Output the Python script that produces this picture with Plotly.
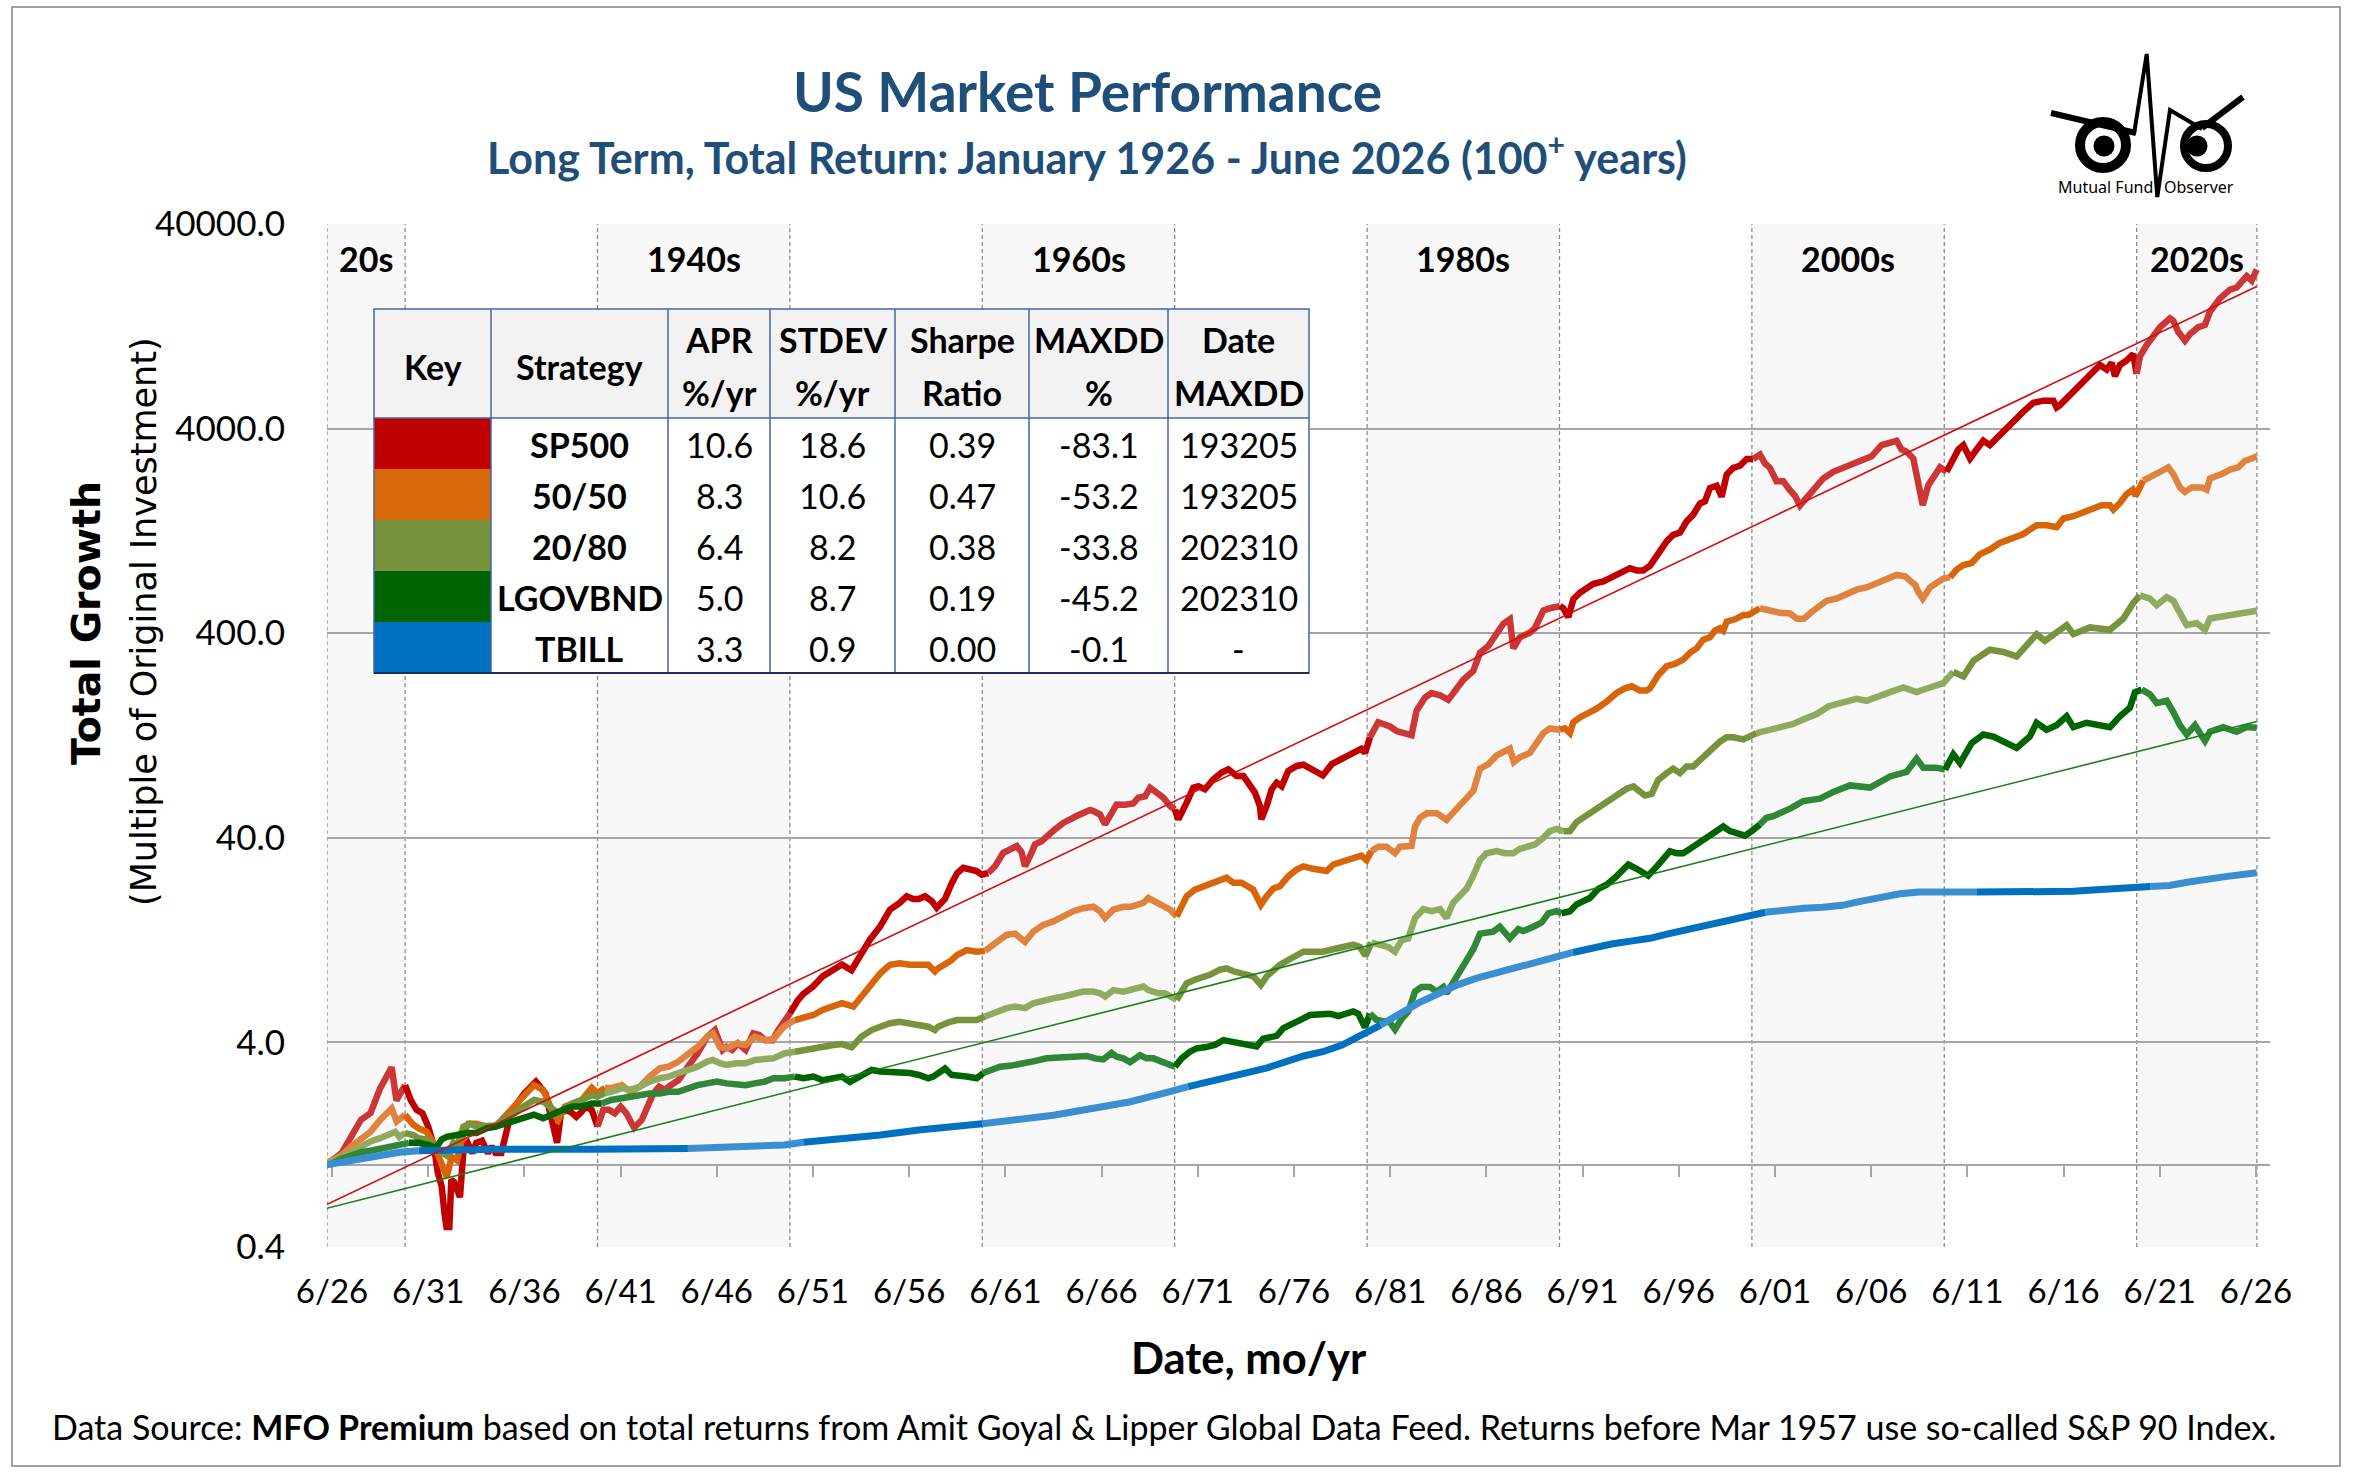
import math
import plotly.graph_objects as go

# ----------------------------------------------------------------- data
# (decimal year, growth multiple)
sp500 = [
    (1926.0, 1.00), (1926.5, 1.06), (1927.0, 1.15), (1927.5, 1.38), (1928.0, 1.67), (1928.5, 1.80),
    (1928.8, 2.17), (1929.0, 2.38), (1929.6, 3.02), (1929.85, 2.08), (1930.3, 2.47), (1930.6, 2.08),
    (1930.9, 1.87), (1931.2, 1.80), (1931.5, 1.55), (1931.8, 1.24), (1932.0, 0.92), (1932.2, 0.79),
    (1932.35, 0.58), (1932.45, 0.50), (1932.6, 0.50), (1932.7, 0.85), (1932.85, 0.83), (1933.15, 0.70),
    (1933.35, 1.24), (1933.55, 1.29), (1933.8, 1.15), (1934.0, 1.29), (1934.3, 1.32), (1934.6, 1.15),
    (1934.8, 1.24), (1935.0, 1.15), (1935.3, 1.15), (1935.5, 1.38), (1935.8, 1.80), (1936.0, 1.94),
    (1936.5, 2.25), (1937.1, 2.57), (1937.3, 2.43), (1937.6, 2.25), (1937.8, 1.87), (1938.0, 1.55),
    (1938.2, 1.29), (1938.4, 1.80), (1938.7, 1.87), (1939.0, 1.80), (1939.2, 1.73), (1939.4, 1.80),
    (1939.7, 1.94), (1940.0, 1.87), (1940.3, 1.55), (1940.6, 1.87), (1940.9, 1.87), (1941.2, 1.80),
    (1941.5, 1.94), (1941.8, 1.80), (1942.2, 1.53), (1942.6, 1.67), (1942.9, 1.94), (1943.2, 2.25),
    (1943.5, 2.43), (1943.8, 2.34), (1944.0, 2.43), (1944.5, 2.61), (1945.0, 3.04), (1945.5, 3.53),
    (1946.0, 4.26), (1946.4, 4.59), (1946.6, 4.10), (1946.8, 3.67), (1947.0, 3.80), (1947.3, 3.67),
    (1947.6, 3.95), (1948.0, 3.67), (1948.4, 4.43), (1948.7, 4.35), (1949.0, 4.10), (1949.4, 4.10),
    (1949.7, 4.60), (1950.0, 5.14), (1950.3, 5.54), (1950.5, 5.97), (1950.7, 6.40), (1951.0, 6.90),
    (1951.5, 7.50), (1952.0, 8.40), (1952.56, 9.10), (1953.0, 9.60), (1953.5, 9.00), (1954.0, 10.9),
    (1954.46, 12.7), (1955.0, 14.8), (1955.5, 17.8), (1956.0, 19.2), (1956.37, 20.7), (1956.71, 20.1),
    (1957.0, 20.1), (1957.32, 20.7), (1957.67, 19.6), (1957.93, 18.2), (1958.36, 20.1), (1958.71, 24.0),
    (1959.0, 26.9), (1959.31, 28.5), (1959.66, 28.1), (1960.0, 27.5), (1960.27, 26.4), (1960.61, 26.9),
    (1960.96, 29.0), (1961.39, 33.8), (1961.74, 35.0), (1962.09, 36.4), (1962.34, 34.0), (1962.52, 29.0),
    (1962.78, 32.5), (1963.04, 37.1), (1963.38, 38.5), (1963.73, 40.7), (1964.08, 44.0), (1964.51, 47.3),
    (1964.94, 50.1), (1965.2, 51.1), (1965.55, 52.9), (1965.9, 54.7), (1966.07, 54.0), (1966.42, 52.0),
    (1966.68, 46.5), (1967.02, 53.1), (1967.28, 58.2), (1967.72, 58.0), (1968.15, 58.9), (1968.41, 62.8),
    (1968.76, 63.8), (1969.02, 70.3), (1969.36, 66.4), (1969.71, 62.8), (1970.06, 57.2), (1970.31, 55.0),
    (1970.49, 49.2), (1970.92, 59.4), (1971.27, 70.3), (1971.53, 71.5), (1971.87, 69.0), (1972.31, 77.3),
    (1972.74, 83.4), (1973.09, 86.5), (1973.52, 80.2), (1973.87, 80.2), (1974.13, 74.5), (1974.47, 66.5),
    (1974.73, 57.2), (1974.8, 49.2), (1975.08, 57.2), (1975.34, 69.0), (1975.6, 74.4), (1975.86, 71.5),
    (1976.2, 84.9), (1976.64, 89.8), (1976.99, 91.0), (1977.5, 85.0), (1978.0, 80.7), (1978.46, 91.6),
    (1978.89, 96.2), (1979.24, 101), (1979.67, 106), (1980.0, 109), (1980.2, 104), (1980.45, 124),
    (1980.88, 147), (1981.14, 144), (1981.49, 140), (1981.83, 133), (1982.18, 130), (1982.61, 127),
    (1982.87, 167), (1983.31, 194), (1983.65, 204), (1984.09, 199), (1984.52, 189), (1984.95, 215),
    (1985.3, 237), (1985.82, 262), (1986.17, 321), (1986.6, 346), (1987.03, 392), (1987.38, 445),
    (1987.72, 468), (1987.9, 337), (1988.24, 382), (1988.76, 402), (1989.02, 423), (1989.46, 516),
    (1989.8, 530), (1990.32, 543), (1990.5, 530), (1990.76, 479), (1991.02, 586), (1991.36, 631),
    (1991.71, 664), (1992.06, 698), (1992.58, 716), (1993.01, 753), (1993.44, 791), (1993.96, 832),
    (1994.31, 811), (1994.65, 811), (1995.0, 853), (1995.43, 991), (1995.87, 1124), (1996.21, 1211),
    (1996.56, 1242), (1996.91, 1409), (1997.25, 1520), (1997.6, 1722), (1997.86, 1766), (1998.12, 2052),
    (1998.47, 2105), (1998.73, 1859), (1998.99, 2386), (1999.33, 2572), (1999.68, 2636), (2000.03, 2842),
    (2000.37, 2842), (2000.72, 2990), (2000.98, 2706), (2001.24, 2572), (2001.58, 2213), (2001.93, 2213),
    (2002.28, 2000), (2002.54, 1880), (2002.8, 1685), (2003.01, 1778), (2003.32, 1915), (2003.67, 2118),
    (2004.01, 2284), (2004.53, 2462), (2005.05, 2588), (2005.57, 2723), (2006.0, 2787), (2006.52, 2931),
    (2007.04, 3324), (2007.48, 3408), (2007.82, 3491), (2008.08, 3162), (2008.34, 3083), (2008.69, 2858),
    (2008.95, 2118), (2009.18, 1690), (2009.47, 2118), (2009.73, 2339), (2010.08, 2588), (2010.42, 2462),
    (2010.77, 2858), (2011.03, 3162), (2011.29, 3324), (2011.64, 2858), (2011.98, 3162), (2012.33, 3491),
    (2012.67, 3324), (2013.11, 3673), (2013.54, 4062), (2013.97, 4489), (2014.41, 4845), (2014.93, 5350),
    (2015.45, 5485), (2015.97, 5485), (2016.14, 5082), (2016.31, 5212), (2016.66, 5623), (2017.01, 6060),
    (2017.35, 6530), (2017.87, 7228), (2018.39, 8190), (2018.74, 7785), (2019.0, 8400), (2019.17, 7228),
    (2019.43, 8190), (2019.78, 8610), (2020.12, 9276), (2020.3, 7400), (2020.47, 9040), (2020.82, 10250),
    (2021.16, 11330), (2021.51, 12530), (2022.03, 13840), (2022.2, 13500), (2022.46, 11910), (2022.81, 10770),
    (2023.07, 11610), (2023.5, 12530), (2023.85, 12850), (2024.11, 14930), (2024.63, 17340), (2025.15, 19150),
    (2025.5, 19600), (2025.76, 21170), (2026.02, 22280), (2026.28, 21170), (2026.45, 23400), (2026.54, 23990),
]

mix_50_50 = [
    (1926.0, 1.00), (1926.5, 1.06), (1927.0, 1.12), (1927.5, 1.24), (1928.0, 1.36), (1928.5, 1.46),
    (1929.0, 1.67), (1929.34, 1.80), (1929.6, 1.90), (1929.86, 1.64), (1930.3, 1.77), (1930.7, 1.59),
    (1931.0, 1.52), (1931.42, 1.46), (1931.77, 1.29), (1932.0, 1.15), (1932.3, 0.99), (1932.46, 0.88),
    (1932.72, 1.10), (1933.0, 1.06), (1933.33, 1.44), (1933.59, 1.60), (1934.0, 1.60), (1934.54, 1.55),
    (1935.0, 1.55), (1935.5, 1.73), (1936.0, 1.94), (1936.44, 2.17), (1937.0, 2.47), (1937.48, 2.34),
    (1938.0, 1.80), (1938.26, 1.67), (1938.61, 1.94), (1939.0, 2.01), (1939.48, 2.09), (1940.0, 2.40),
    (1940.29, 2.26), (1940.69, 2.39), (1941.0, 2.39), (1941.56, 2.47), (1942.0, 2.29), (1942.51, 2.43),
    (1943.0, 2.72), (1943.55, 2.99), (1944.0, 3.04), (1944.5, 3.22), (1945.0, 3.47), (1945.5, 3.80),
    (1946.0, 4.26), (1946.3, 4.43), (1946.66, 3.80), (1947.0, 3.73), (1947.53, 3.95), (1948.0, 3.88),
    (1948.48, 4.26), (1949.0, 4.10), (1949.44, 4.15), (1950.0, 4.79), (1950.56, 5.14), (1951.0, 5.25),
    (1951.52, 5.44), (1952.0, 5.76), (1952.56, 5.98), (1953.0, 6.21), (1953.6, 5.98), (1954.01, 6.70),
    (1954.55, 7.78), (1955.0, 8.71), (1955.5, 9.57), (1956.0, 9.75), (1956.54, 9.57), (1957.01, 9.57),
    (1957.49, 9.57), (1957.84, 8.88), (1958.0, 9.20), (1958.62, 9.95), (1959.0, 10.7), (1959.49, 11.3),
    (1960.01, 11.1), (1960.44, 11.2), (1961.01, 12.4), (1961.56, 13.4), (1962.0, 13.6), (1962.52, 12.4),
    (1962.95, 13.9), (1963.47, 15.0), (1963.99, 15.6), (1964.51, 16.5), (1965.03, 17.5), (1965.55, 18.1),
    (1966.07, 18.4), (1966.42, 17.5), (1966.68, 16.2), (1967.11, 17.8), (1967.63, 18.4), (1968.01, 18.4),
    (1968.67, 19.2), (1968.93, 20.3), (1969.45, 19.2), (1969.8, 18.4), (1970.06, 17.8), (1970.4, 16.5),
    (1970.58, 17.8), (1970.92, 20.7), (1971.35, 22.3), (1971.87, 23.2), (1972.13, 23.5), (1972.65, 24.5),
    (1973.0, 25.5), (1973.35, 24.1), (1973.78, 24.1), (1974.38, 22.3), (1974.55, 20.7), (1974.78, 18.8),
    (1975.08, 20.7), (1975.43, 22.6), (1975.77, 23.2), (1976.2, 25.9), (1976.64, 28.0), (1976.99, 29.0),
    (1977.5, 28.2), (1978.2, 27.5), (1978.54, 29.6), (1978.99, 30.4), (1979.58, 31.9), (1980.0, 32.7),
    (1980.27, 31.1), (1980.53, 34.5), (1980.88, 36.2), (1981.31, 36.2), (1981.75, 33.6), (1982.01, 36.2),
    (1982.61, 36.5), (1982.79, 45.4), (1983.05, 50.1), (1983.4, 52.7), (1983.92, 52.7), (1984.09, 51.5),
    (1984.43, 48.9), (1984.95, 55.4), (1985.47, 62.8), (1985.82, 67.8), (1986.17, 87.1), (1986.6, 91.6),
    (1987.03, 101), (1987.38, 106), (1987.72, 109), (1987.93, 93.8), (1988.24, 99.0), (1988.76, 104),
    (1989.02, 112), (1989.46, 130), (1989.8, 137), (1990.32, 135), (1990.58, 137), (1990.84, 130),
    (1991.02, 147), (1991.36, 155), (1991.88, 163), (1992.23, 171), (1992.75, 185), (1993.27, 204),
    (1993.7, 215), (1994.05, 220), (1994.48, 210), (1994.83, 210), (1995.0, 215), (1995.43, 249),
    (1995.87, 276), (1996.3, 283), (1996.73, 297), (1997.08, 321), (1997.43, 337), (1997.77, 372),
    (1998.12, 382), (1998.38, 412), (1998.64, 423), (1998.81, 412), (1998.99, 456), (1999.42, 468),
    (1999.85, 491), (2000.11, 491), (2000.72, 530), (2001.24, 516), (2001.76, 503), (2002.28, 500),
    (2002.63, 472), (2002.8, 470), (2003.01, 472), (2003.41, 508), (2003.84, 548), (2004.19, 577),
    (2004.71, 591), (2005.23, 621), (2005.74, 653), (2006.26, 670), (2006.87, 705), (2007.3, 740),
    (2007.82, 771), (2008.26, 760), (2008.52, 721), (2008.78, 690), (2008.95, 637), (2009.18, 591),
    (2009.56, 670), (2009.9, 705), (2010.25, 740), (2010.6, 750), (2010.94, 818), (2011.29, 861),
    (2011.72, 881), (2012.16, 975), (2012.67, 1026), (2013.19, 1105), (2013.71, 1162), (2014.41, 1222),
    (2015.1, 1349), (2015.62, 1349), (2016.14, 1320), (2016.49, 1455), (2017.01, 1493), (2017.53, 1567),
    (2018.05, 1648), (2018.48, 1690), (2018.91, 1690), (2019.09, 1607), (2019.43, 1733), (2019.78, 1915),
    (2020.1, 2012), (2020.25, 1880), (2020.64, 2228), (2020.99, 2339), (2021.51, 2462), (2021.94, 2588),
    (2022.2, 2400), (2022.55, 2065), (2022.81, 1964), (2023.16, 2065), (2023.68, 2065), (2023.94, 2012),
    (2024.11, 2284), (2024.72, 2399), (2025.15, 2522), (2025.58, 2588), (2025.93, 2787), (2026.28, 2858),
    (2026.54, 2931),
]

mix_20_80 = [
    (1926.0, 1.00), (1926.5, 1.04), (1927.0, 1.10), (1927.5, 1.16), (1928.0, 1.24), (1928.5, 1.31),
    (1929.0, 1.36), (1929.5, 1.41), (1929.78, 1.46), (1930.0, 1.38), (1930.3, 1.44), (1930.73, 1.41),
    (1931.0, 1.36), (1931.42, 1.34), (1931.77, 1.24), (1932.2, 1.16), (1932.46, 1.12), (1932.81, 1.29),
    (1933.0, 1.24), (1933.33, 1.55), (1933.67, 1.60), (1934.0, 1.55), (1934.54, 1.57), (1935.0, 1.57),
    (1935.5, 1.70), (1936.0, 1.80), (1936.44, 1.94), (1937.0, 2.09), (1937.48, 2.05), (1938.0, 1.87),
    (1938.26, 1.80), (1938.61, 1.90), (1939.0, 2.01), (1939.48, 2.09), (1940.0, 2.21), (1940.29, 2.17),
    (1940.69, 2.26), (1941.0, 2.29), (1941.56, 2.39), (1942.0, 2.34), (1942.51, 2.43), (1943.0, 2.57),
    (1943.55, 2.67), (1944.0, 2.72), (1944.5, 2.83), (1945.0, 2.94), (1945.5, 3.04), (1946.0, 3.22),
    (1946.3, 3.28), (1946.66, 3.16), (1947.0, 3.10), (1947.53, 3.16), (1948.0, 3.16), (1948.48, 3.28),
    (1949.0, 3.28), (1949.44, 3.34), (1950.0, 3.53), (1950.56, 3.60), (1951.0, 3.67), (1951.52, 3.73),
    (1952.0, 3.78), (1952.56, 3.88), (1953.0, 3.92), (1953.51, 3.78), (1954.01, 4.26), (1954.55, 4.59),
    (1955.0, 4.77), (1955.5, 4.96), (1956.0, 5.04), (1956.54, 4.96), (1957.01, 4.90), (1957.49, 4.77),
    (1957.84, 4.59), (1958.0, 4.77), (1958.62, 5.04), (1959.0, 5.14), (1959.49, 5.14), (1960.01, 5.14),
    (1960.44, 5.35), (1961.01, 5.66), (1961.56, 5.88), (1962.0, 5.98), (1962.52, 5.88), (1962.95, 6.21),
    (1963.47, 6.44), (1963.99, 6.56), (1964.51, 6.70), (1965.03, 6.84), (1965.55, 7.08), (1966.07, 7.08),
    (1966.42, 6.95), (1966.68, 6.70), (1967.11, 7.20), (1967.63, 7.08), (1968.01, 7.20), (1968.67, 7.50),
    (1968.93, 7.20), (1969.45, 6.95), (1969.8, 6.95), (1970.06, 6.70), (1970.4, 6.44), (1970.58, 6.95),
    (1970.92, 7.78), (1971.35, 8.09), (1971.87, 8.40), (1972.13, 8.55), (1972.65, 9.06), (1973.0, 9.20),
    (1973.35, 8.90), (1973.87, 8.72), (1974.38, 8.40), (1974.55, 8.09), (1974.78, 7.64), (1975.08, 8.40),
    (1975.43, 9.06), (1975.77, 9.57), (1976.2, 10.1), (1976.64, 10.7), (1976.99, 11.1), (1977.5, 11.1),
    (1978.0, 11.1), (1978.54, 11.4), (1978.99, 11.7), (1979.58, 12.0), (1979.93, 11.7), (1980.22, 10.6),
    (1980.53, 12.3), (1980.97, 12.0), (1981.4, 11.7), (1981.75, 11.1), (1982.09, 12.6), (1982.44, 12.9),
    (1982.79, 16.2), (1983.22, 17.9), (1983.65, 17.5), (1984.09, 17.9), (1984.43, 16.2), (1984.78, 19.3),
    (1985.13, 20.8), (1985.47, 22.5), (1985.82, 26.1), (1986.17, 31.1), (1986.51, 33.6), (1987.03, 34.4),
    (1987.46, 33.6), (1987.9, 33.6), (1988.24, 35.3), (1988.59, 36.2), (1989.02, 37.1), (1989.46, 40.0),
    (1989.8, 43.1), (1990.15, 44.2), (1990.5, 43.1), (1990.84, 43.1), (1991.19, 47.7), (1991.54, 50.1),
    (1991.88, 52.7), (1992.4, 56.9), (1992.92, 61.2), (1993.36, 64.4), (1993.79, 69.5), (1994.14, 71.3),
    (1994.74, 64.4), (1995.09, 65.5), (1995.43, 76.7), (1995.87, 82.8), (1996.21, 87.1), (1996.56, 82.8),
    (1996.91, 89.3), (1997.25, 89.3), (1997.6, 96.2), (1997.95, 104), (1998.29, 109), (1998.64, 118),
    (1998.99, 124), (1999.33, 124), (1999.85, 121), (2000.11, 124), (2000.54, 130), (2001.06, 133),
    (2001.5, 137), (2001.93, 140), (2002.45, 144), (2003.0, 152), (2003.67, 161), (2004.3, 176),
    (2004.88, 182), (2005.74, 191), (2006.26, 187), (2006.9, 198), (2007.48, 206), (2008.17, 217),
    (2008.86, 206), (2009.56, 217), (2010.25, 228), (2010.77, 259), (2011.29, 246), (2011.81, 293),
    (2012.67, 332), (2013.37, 324), (2014.06, 308), (2015.1, 396), (2015.53, 367), (2016.66, 438),
    (2017.01, 396), (2017.87, 427), (2018.91, 416), (2019.61, 472), (2020.12, 562), (2020.47, 612),
    (2020.99, 591), (2021.34, 548), (2021.86, 600), (2022.2, 577), (2022.55, 496), (2022.9, 438),
    (2023.42, 449), (2023.85, 416), (2024.11, 472), (2024.8, 484), (2025.5, 496), (2026.54, 515),
]

lgovbnd = [
    (1926.0, 1.00), (1926.5, 1.02), (1927.0, 1.08), (1927.5, 1.12), (1928.0, 1.16), (1928.5, 1.18),
    (1929.0, 1.21), (1929.5, 1.23), (1930.0, 1.26), (1930.5, 1.29), (1931.0, 1.29), (1931.5, 1.26),
    (1931.9, 1.22), (1932.2, 1.34), (1932.46, 1.38), (1933.0, 1.41), (1933.5, 1.44), (1934.0, 1.44),
    (1934.54, 1.52), (1935.0, 1.55), (1935.5, 1.60), (1936.0, 1.67), (1936.44, 1.73), (1937.0, 1.77),
    (1937.48, 1.70), (1938.0, 1.80), (1938.52, 1.87), (1939.0, 1.94), (1939.48, 1.94), (1940.0, 2.01),
    (1940.52, 2.01), (1941.0, 2.09), (1941.56, 2.13), (1942.0, 2.17), (1942.51, 2.21), (1943.0, 2.25),
    (1943.55, 2.25), (1944.0, 2.29), (1944.5, 2.29), (1945.0, 2.39), (1945.5, 2.47), (1946.0, 2.52),
    (1946.5, 2.57), (1947.0, 2.52), (1947.53, 2.47), (1948.0, 2.47), (1948.48, 2.52), (1949.0, 2.57),
    (1949.44, 2.67), (1950.0, 2.67), (1950.56, 2.72), (1951.0, 2.67), (1951.52, 2.72), (1952.0, 2.61),
    (1952.56, 2.67), (1953.0, 2.72), (1953.42, 2.56), (1954.01, 2.77), (1954.55, 2.93), (1955.0, 2.88),
    (1955.5, 2.88), (1956.0, 2.83), (1956.54, 2.83), (1957.01, 2.77), (1957.49, 2.67), (1957.75, 2.72),
    (1958.36, 2.98), (1958.71, 2.77), (1959.0, 2.77), (1959.49, 2.72), (1960.01, 2.67), (1960.35, 2.83),
    (1960.79, 2.93), (1961.22, 3.04), (1961.74, 3.07), (1962.26, 3.16), (1962.95, 3.23), (1963.64, 3.34),
    (1964.16, 3.36), (1964.68, 3.36), (1965.2, 3.40), (1965.72, 3.43), (1966.16, 3.34), (1966.59, 3.30),
    (1967.02, 3.55), (1967.28, 3.40), (1967.63, 3.34), (1967.98, 3.20), (1968.5, 3.46), (1968.84, 3.34),
    (1969.19, 3.34), (1969.71, 3.20), (1970.06, 3.16), (1970.31, 3.04), (1970.66, 3.34), (1971.09, 3.60),
    (1971.44, 3.74), (1971.87, 3.78), (1972.39, 3.88), (1972.82, 4.10), (1973.35, 4.02), (1973.69, 3.96),
    (1974.21, 3.88), (1974.56, 3.82), (1974.9, 4.17), (1975.25, 4.20), (1975.6, 4.30), (1975.95, 4.69),
    (1976.38, 4.88), (1976.81, 5.14), (1977.33, 5.44), (1977.76, 5.45), (1978.37, 5.52), (1978.8, 5.38),
    (1979.24, 5.52), (1979.58, 5.66), (1979.84, 5.52), (1980.1, 4.99), (1980.19, 4.74), (1980.45, 5.52),
    (1980.79, 5.15), (1981.14, 5.07), (1981.49, 4.99), (1981.75, 4.62), (1982.09, 5.20), (1982.44, 5.66),
    (1982.79, 7.08), (1983.13, 7.45), (1983.57, 7.45), (1983.91, 7.08), (1984.26, 7.45), (1984.43, 6.94),
    (1984.87, 8.04), (1985.13, 8.88), (1985.47, 9.81), (1985.82, 11.4), (1986.17, 13.6), (1986.51, 13.7),
    (1986.86, 13.9), (1987.2, 14.7), (1987.72, 12.9), (1988.16, 14.3), (1988.42, 14.0), (1988.94, 14.7),
    (1989.37, 15.4), (1989.72, 17.1), (1990.15, 17.5), (1990.41, 17.1), (1990.84, 17.5), (1991.19, 18.9),
    (1991.54, 19.8), (1991.88, 20.3), (1992.32, 22.5), (1992.75, 23.6), (1993.18, 25.5), (1993.53, 27.5),
    (1993.88, 29.6), (1994.31, 28.2), (1994.65, 26.8), (1994.91, 26.1), (1995.35, 28.9), (1995.69, 31.1),
    (1996.04, 34.4), (1996.39, 33.6), (1996.73, 33.6), (1997.08, 35.3), (1997.43, 37.1), (1997.77, 39.0),
    (1998.12, 41.0), (1998.47, 43.1), (1998.81, 45.4), (1999.16, 43.1), (1999.5, 42.1), (1999.94, 41.0),
    (2000.29, 43.1), (2000.72, 46.5), (2001.06, 50.1), (2001.41, 51.0), (2001.76, 52.7), (2002.36, 56.0),
    (2002.97, 60.5), (2003.84, 62.1), (2004.53, 67.0), (2005.4, 72.1), (2006.44, 70.4), (2007.48, 79.8),
    (2008.34, 83.9), (2008.86, 97.5), (2009.21, 88.1), (2009.9, 88.1), (2010.34, 86.1), (2010.77, 102.5),
    (2011.12, 92.7), (2011.72, 116), (2012.33, 128), (2012.85, 125), (2013.54, 116), (2014.06, 110),
    (2014.75, 125), (2015.1, 146), (2015.62, 135), (2016.14, 142), (2016.66, 157), (2017.01, 139),
    (2017.7, 146), (2018.39, 142), (2018.91, 139), (2019.43, 157), (2019.95, 173), (2020.21, 206),
    (2020.56, 212), (2020.99, 201), (2021.34, 182), (2021.86, 187), (2022.2, 165), (2022.55, 142),
    (2022.9, 128), (2023.33, 142), (2023.85, 119), (2024.11, 132), (2024.8, 139), (2025.49, 132),
    (2026.01, 139), (2026.54, 138),
]

tbill = [
    (1926.0, 1.00), (1927.0, 1.04), (1928.0, 1.08), (1929.0, 1.12), (1930.0, 1.16), (1931.0, 1.18),
    (1932.0, 1.19), (1933.0, 1.20), (1935.0, 1.20), (1940.0, 1.20), (1945.0, 1.21), (1948.0, 1.23),
    (1950.0, 1.26), (1951.0, 1.30), (1953.0, 1.35), (1955.0, 1.41), (1957.0, 1.49), (1959.0, 1.54),
    (1960.3, 1.60), (1962.0, 1.66), (1964.0, 1.76), (1966.0, 1.90), (1968.0, 2.05), (1970.0, 2.29),
    (1971.0, 2.43), (1973.0, 2.67), (1975.0, 2.98), (1977.0, 3.43), (1978.0, 3.60), (1979.0, 3.88),
    (1980.0, 4.33), (1981.0, 4.86), (1982.0, 5.51), (1983.0, 6.25), (1984.0, 6.91), (1985.0, 7.64),
    (1986.0, 8.24), (1987.0, 8.75), (1988.0, 9.21), (1989.0, 9.82), (1990.0, 10.3), (1991.0, 11.0),
    (1992.0, 11.6), (1993.0, 12.1), (1994.0, 12.5), (1995.0, 12.9), (1996.0, 13.6), (1997.0, 14.3),
    (1998.0, 14.9), (1999.0, 15.7), (2000.0, 16.4), (2001.0, 17.3), (2002.0, 17.8), (2003.0, 18.1),
    (2004.0, 18.3), (2005.0, 18.7), (2006.0, 19.6), (2007.0, 20.5), (2008.0, 21.3), (2009.0, 21.7),
    (2012.0, 21.7), (2015.0, 21.7), (2017.0, 21.9), (2018.0, 22.2), (2019.0, 22.6), (2020.0, 23.1),
    (2021.0, 23.1), (2022.0, 23.4), (2023.0, 24.3), (2024.0, 25.2), (2025.0, 25.9), (2026.54, 27.0),
]

# straight trend lines (log scale): endpoints
trend_years = [1926.0, 2026.54]
trend_sp500 = [0.63, 19800]
trend_lgovbnd = [0.61, 148]

# x-axis tick positions (June of each 5th year) and labels
tick_years = [1926.5, 1931.5, 1936.5, 1941.5, 1946.5, 1951.5, 1956.5, 1961.5, 1966.5, 1971.5, 1976.5,
              1981.5, 1986.5, 1991.5, 1996.5, 2001.5, 2006.5, 2011.5, 2016.5, 2021.5, 2026.5]
tick_labels = ["6/26", "6/31", "6/36", "6/41", "6/46", "6/51", "6/56", "6/61", "6/66", "6/71", "6/76",
               "6/81", "6/86", "6/91", "6/96", "6/01", "6/06", "6/11", "6/16", "6/21", "6/26"]
y_ticks = [0.4, 4, 40, 400, 4000, 40000]
y_tick_labels = ["0.4", "4.0", "40.0", "400.0", "4000.0", "40000.0"]

# decade bands (edges in decimal years) and labels of shaded bands
band_edges = [1926.24, 1930.3, 1940.3, 1950.3, 1960.3, 1970.3, 1980.3, 1990.3, 2000.3, 2010.3, 2020.3, 2026.55]
band_labels = ["20s", "1940s", "1960s", "1980s", "2000s", "2020s"]

# statistics table
table_strategies = ["SP500", "50/50", "20/80", "LGOVBND", "TBILL"]
table_apr = ["10.6", "8.3", "6.4", "5.0", "3.3"]
table_stdev = ["18.6", "10.6", "8.2", "8.7", "0.9"]
table_sharpe = ["0.39", "0.47", "0.38", "0.19", "0.00"]
table_maxdd = ["-83.1", "-53.2", "-33.8", "-45.2", "-0.1"]
table_date_maxdd = ["193205", "193205", "202310", "202310", "-"]
table_headers = [["Key"], ["Strategy"], ["APR", "%/yr"], ["STDEV", "%/yr"],
                 ["Sharpe", "Ratio"], ["MAXDD", "%"], ["Date", "MAXDD"]]

# ----------------------------------------------------------------- styling
W, H = 2362, 1481
PL, PR, PT, PB = 327, 2270, 224, 1247          # plot box in pixels
X_RANGE = [1926.24, 2027.23]
EPS = 0.0006
Y_RANGE = [math.log10(0.4) - EPS, math.log10(40000) + EPS]
FONT = "Lato, 'Open Sans', sans-serif"
TITLE_BLUE = "#1F4E79"
GRID = "#A6A6A6"

series_styles = [
    (sp500, "#C00000", "#CD3636", 6.5),
    (mix_50_50, "#D9650B", "#E0833F", 6.5),
    (mix_20_80, "#77933C", "#90AB5F", 6.5),
    (lgovbnd, "#006400", "#2F8737", 6.5),
    (tbill, "#0070C0", "#3A8FD3", 7),
]
key_colors = ["#C00000", "#D9690B", "#77933C", "#006400", "#0070C0"]


def fx(p):
    return (p - PL) / (PR - PL)


def fy(p):
    return (PB - p) / (PB - PT)


fig = go.Figure()

# data lines, coloured lighter inside the shaded decade bands
for data, dark, light, width in series_styles:
    xs = [p[0] for p in data]
    ys = [p[1] for p in data]
    nb = len(band_edges) - 1
    for i in range(nb):
        lo = -1e9 if i == 0 else band_edges[i]
        hi = 1e9 if i == nb - 1 else band_edges[i + 1]
        idx = [k for k, x in enumerate(xs) if lo <= x < hi]
        if not idx:
            continue
        end = min(idx[-1] + 1, len(xs) - 1)
        fig.add_trace(go.Scatter(
            x=xs[idx[0]:end + 1], y=ys[idx[0]:end + 1], mode="lines",
            line=dict(color=light if i % 2 == 0 else dark, width=width),
            hoverinfo="skip", showlegend=False))

# trend lines
fig.add_trace(go.Scatter(x=trend_years, y=trend_sp500, mode="lines",
                         line=dict(color="#D01010", width=1.6), hoverinfo="skip", showlegend=False))
fig.add_trace(go.Scatter(x=trend_years, y=trend_lgovbnd, mode="lines",
                         line=dict(color="#188018", width=1.6), hoverinfo="skip", showlegend=False))
# carrier trace for the axis line drawn at growth = 1
fig.add_trace(go.Scatter(x=[tick_years[0]], y=[1], xaxis="x2", yaxis="y", mode="markers",
                         marker=dict(opacity=0), hoverinfo="skip", showlegend=False))

shapes = []
# decade bands
for i in range(len(band_edges) - 1):
    if i % 2 == 0:
        shapes.append(dict(type="rect", xref="x", yref="paper", x0=band_edges[i], x1=band_edges[i + 1],
                           y0=0, y1=1, fillcolor="#F8F8F8", line=dict(width=0), layer="below"))
for e in band_edges:
    shapes.append(dict(type="line", xref="x", yref="paper", x0=e, x1=e, y0=0, y1=1,
                       line=dict(color="#8C8C8C", width=1.3, dash="4px,3px"), layer="below"))

# table
col_edges = [374, 491, 668, 770, 895, 1029, 1168, 1309]
row_edges = [309, 418, 469, 520, 571, 622, 673]
TBL_LINE = "#4466A0"
shapes.append(dict(type="rect", xref="paper", yref="paper", x0=fx(col_edges[0]), x1=fx(col_edges[-1]),
                   y0=fy(row_edges[-1]), y1=fy(row_edges[0]), fillcolor="white", line=dict(width=0), layer="above"))
shapes.append(dict(type="rect", xref="paper", yref="paper", x0=fx(col_edges[0]), x1=fx(col_edges[-1]),
                   y0=fy(row_edges[1]), y1=fy(row_edges[0]), fillcolor="#F2F2F2", line=dict(width=0), layer="above"))
for r, c in enumerate(key_colors):
    shapes.append(dict(type="rect", xref="paper", yref="paper", x0=fx(col_edges[0]), x1=fx(col_edges[1]),
                       y0=fy(row_edges[r + 2]), y1=fy(row_edges[r + 1]), fillcolor=c, line=dict(width=0),
                       layer="above"))
for cx in col_edges[1:-1]:
    shapes.append(dict(type="line", xref="paper", yref="paper", x0=fx(cx), x1=fx(cx),
                       y0=fy(row_edges[-1]), y1=fy(row_edges[0]), line=dict(color=TBL_LINE, width=1.5),
                       layer="above"))
shapes.append(dict(type="line", xref="paper", yref="paper", x0=fx(col_edges[0]), x1=fx(col_edges[-1]),
                   y0=fy(row_edges[1]), y1=fy(row_edges[1]), line=dict(color=TBL_LINE, width=1.5), layer="above"))
shapes.append(dict(type="rect", xref="paper", yref="paper", x0=fx(col_edges[0]), x1=fx(col_edges[-1]),
                   y0=fy(row_edges[-1]), y1=fy(row_edges[0]), line=dict(color=TBL_LINE, width=1.5), layer="above"))
shapes.append(dict(type="line", xref="paper", yref="paper", x0=fx(col_edges[0]), x1=fx(col_edges[-1]),
                   y0=fy(row_edges[-1]), y1=fy(row_edges[-1]), line=dict(color="#1F2F50", width=2), layer="above"))

# outer frame of the picture
shapes.append(dict(type="rect", xref="paper", yref="paper", x0=fx(12), x1=fx(2340), y0=fy(1466), y1=fy(7),
                   line=dict(color="#A0A0A0", width=2), layer="above"))

# logo (owl eyes + heartbeat)
def circ(cx, cy, r, **kw):
    return dict(type="circle", xref="paper", yref="paper", x0=fx(cx - r), x1=fx(cx + r),
                y0=fy(cy + r), y1=fy(cy - r), layer="above", **kw)


shapes.append(circ(2103, 145, 23, line=dict(color="black", width=10)))
shapes.append(circ(2206, 146, 22, line=dict(color="black", width=8)))
shapes.append(circ(2104, 146, 10.5, fillcolor="black", line=dict(width=0)))
shapes.append(circ(2197, 146, 10.5, fillcolor="black", line=dict(width=0)))
shapes.append(dict(type="line", xref="paper", yref="paper", x0=fx(2051), y0=fy(113), x1=fx(2136), y1=fy(133),
                   line=dict(color="black", width=6), layer="above"))
shapes.append(dict(type="line", xref="paper", yref="paper", x0=fx(2243), y0=fy(97), x1=fx(2202), y1=fy(128),
                   line=dict(color="black", width=6), layer="above"))
spike = [(2134, 134), (2146.7, 54), (2157.3, 197), (2170, 110), (2202, 129)]
path = "M " + " L ".join(f"{fx(a):.5f},{fy(b):.5f}" for a, b in spike)
shapes.append(dict(type="path", xref="paper", yref="paper", path=path,
                   line=dict(color="black", width=4), layer="above"))

annotations = []


def txt(text, x, y, size, color="black", bold=False, family=FONT, xanchor="center", angle=0):
    if bold:
        text = f"<b>{text}</b>"
    annotations.append(dict(text=text, xref="paper", yref="paper", x=fx(x), y=fy(y), xanchor=xanchor,
                            yanchor="middle", showarrow=False, textangle=angle,
                            font=dict(family=family, size=size, color=color)))


txt("US Market Performance", 1087, 91, 55, TITLE_BLUE, bold=True)
txt("Long Term, Total Return: January 1926 - June 2026 (100<sup>+</sup> years)", 1087, 154, 43,
    TITLE_BLUE, bold=True)
txt("Total Growth", 86, 623, 39.5, bold=True, family="'DejaVu Sans', Verdana, sans-serif", angle=-90)
txt("(Multiple of Original Investment)", 144, 622, 35, family="'DejaVu Sans', Verdana, sans-serif", angle=-90)
txt("Date, mo/yr", 1249, 1357, 43.5, bold=True)
txt("Data Source: <b>MFO Premium</b> based on total returns from Amit Goyal &amp; Lipper Global Data Feed. "
    "Returns before Mar 1957 use so-called S&amp;P 90 Index.", 50, 1426, 34, xanchor="left")

# decade labels centred in the shaded bands
for k, lab in enumerate(band_labels):
    a, b = band_edges[2 * k], band_edges[2 * k + 1]
    annotations.append(dict(text=f"<b>{lab}</b>", xref="x", yref="paper", x=(a + b) / 2, y=fy(258),
                            xanchor="center", yanchor="middle", showarrow=False,
                            font=dict(family=FONT, size=34, color="black")))

# table text
col_mid = [(col_edges[i] + col_edges[i + 1]) / 2 for i in range(len(col_edges) - 1)]
for c, hdr in enumerate(table_headers):
    if len(hdr) == 1:
        txt(hdr[0], col_mid[c], 366, 34, bold=True)
    else:
        txt(hdr[0], col_mid[c], 339, 34, bold=True)
        txt(hdr[1], col_mid[c], 392, 34, bold=True)
columns = [table_strategies, table_apr, table_stdev, table_sharpe, table_maxdd, table_date_maxdd]
for c, col in enumerate(columns):
    for r, val in enumerate(col):
        ymid = (row_edges[r + 1] + row_edges[r + 2]) / 2 + 1
        txt(val, col_mid[c + 1], ymid, 34, bold=(c == 0))

# logo words
txt("Mutual Fund", 2105, 187, 16, family="'Noto Sans', sans-serif")
txt("Observer", 2199, 187, 16, family="'Noto Sans', sans-serif")

fig.update_layout(
    width=W, height=H,
    margin=dict(l=PL, r=W - PR, t=PT, b=H - PB, pad=0),
    paper_bgcolor="white", plot_bgcolor="white",
    showlegend=False,
    font=dict(family=FONT, color="black"),
    xaxis=dict(range=X_RANGE, tickvals=tick_years, ticktext=tick_labels, ticks="outside", ticklen=15,
               tickcolor="rgba(0,0,0,0)", showgrid=False, zeroline=False, showline=False,
               tickfont=dict(family=FONT, size=33, color="black")),
    xaxis2=dict(overlaying="x", anchor="free",
                position=(0 - Y_RANGE[0]) / (Y_RANGE[1] - Y_RANGE[0]),
                range=X_RANGE, side="bottom", showline=True, linecolor=GRID, linewidth=2,
                ticks="outside", ticklen=11, tickwidth=2, tickcolor=GRID, tickvals=tick_years,
                showticklabels=False, showgrid=False, zeroline=False, layer="below traces"),
    yaxis=dict(type="log", range=Y_RANGE, tickvals=y_ticks, ticktext=y_tick_labels, ticks="outside",
               ticklen=34, tickcolor="rgba(0,0,0,0)", showgrid=True, gridcolor=GRID, gridwidth=2,
               zeroline=False, showline=False, tickfont=dict(family=FONT, size=35, color="black")),
    shapes=shapes,
    annotations=annotations,
)

fig.write_html("out.html", config={"displayModeBar": False},
               post_script="document.body.style.margin='0';document.body.style.overflow='hidden';")
